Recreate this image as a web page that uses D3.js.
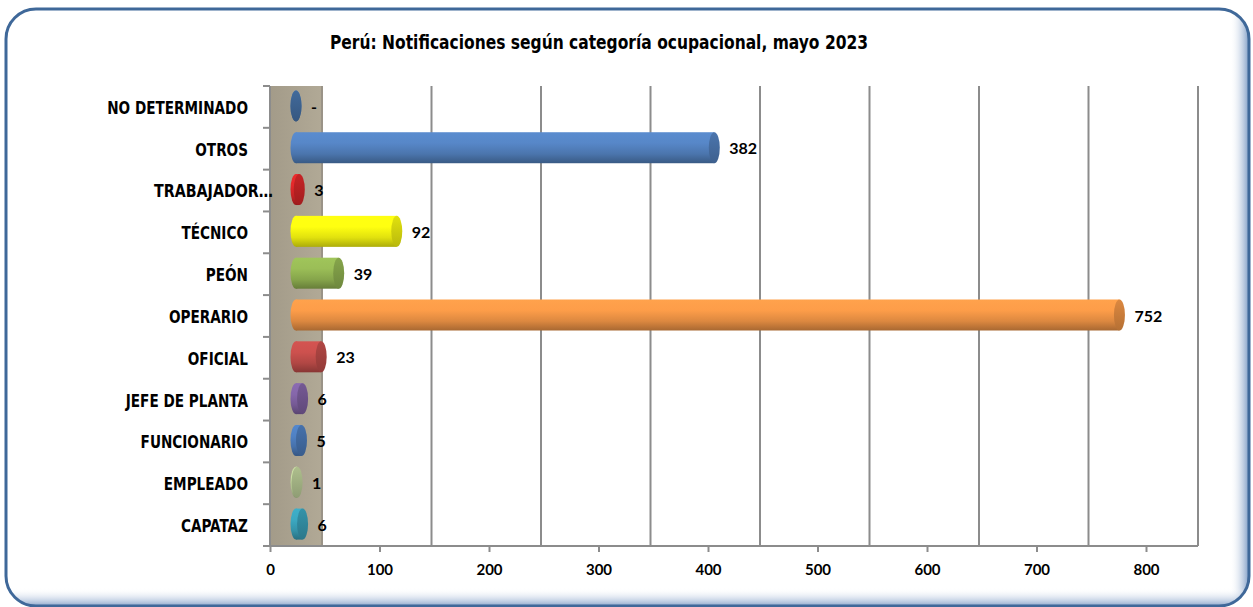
<!DOCTYPE html>
<meta charset="utf-8" />
<style>
  body { margin: 0; background: #fff; }
</style>
<svg width="1253" height="607"></svg>
<script src="https://d3js.org/d3.v7.min.js"></script>
<script>
  // chart data
  var categories = ["NO DETERMINADO", "OTROS", "TRABAJADOR\u2026", "TÉCNICO", "PEÓN", "OPERARIO",
    "OFICIAL", "JEFE DE PLANTA", "FUNCIONARIO", "EMPLEADO", "CAPATAZ"];
  var values = [0, 382, 3, 92, 39, 752, 23, 6, 5, 1, 6];
  var valueLabels = ["-", "382", "3", "92", "39", "752", "23", "6", "5", "1", "6"];
  var xTicks = [0, 100, 200, 300, 400, 500, 600, 700, 800];
  var barColors = ["#4a78b0", "#5585c4", "#e0282a", "#ffff10", "#98bb55", "#f99a48",
    "#c9504d", "#8465a8", "#4f80c2", "#c5d8a0", "#3ba6bf"];
  var title = "Perú: Notificaciones según categoría ocupacional, mayo 2023";

  var svg = d3.select("svg");
  var defs = svg.append("defs");

  var depth = 52;       // 3d side wall width
  var barH = 31;        // cylinder thickness
  var capRx = 5.5;
  var narrow = "'Liberation Sans Narrow', 'Arial Narrow', 'DejaVu Sans Condensed', sans-serif";

  var x = d3.scaleLinear().domain([0, 800]).range([270, 1146]);
  var y = d3.scaleBand().domain(categories).range([86, 546]);

  // frame with inner shadow
  defs.append("clipPath").attr("id", "frameClip")
    .append("rect").attr("x", 6).attr("y", 9).attr("width", 1243).attr("height", 597).attr("rx", 30);

  var gr = defs.append("linearGradient").attr("id", "shR").attr("x1", 0).attr("x2", 1).attr("y1", 0).attr("y2", 0);
  gr.append("stop").attr("offset", "0%").attr("stop-color", "#ffffff").attr("stop-opacity", 0);
  gr.append("stop").attr("offset", "100%").attr("stop-color", "#6f90be");
  var gb = defs.append("linearGradient").attr("id", "shB").attr("x1", 0).attr("x2", 0).attr("y1", 0).attr("y2", 1);
  gb.append("stop").attr("offset", "0%").attr("stop-color", "#ffffff").attr("stop-opacity", 0);
  gb.append("stop").attr("offset", "100%").attr("stop-color", "#7f9cc6");

  var frame = svg.append("g").attr("clip-path", "url(#frameClip)");
  frame.append("rect").attr("x", 0).attr("y", 0).attr("width", 1253).attr("height", 607).attr("fill", "#fff");
  frame.append("rect").attr("x", 1230).attr("y", 0).attr("width", 20).attr("height", 607).attr("fill", "url(#shR)");
  frame.append("rect").attr("x", 0).attr("y", 588).attr("width", 1253).attr("height", 19).attr("fill", "url(#shB)");
  svg.append("rect").attr("x", 6).attr("y", 9).attr("width", 1243).attr("height", 597).attr("rx", 30)
    .attr("fill", "none").attr("stroke", "#3f6899").attr("stroke-width", 3);

  // title
  svg.append("text")
    .attr("x", 599).attr("y", 49)
    .attr("text-anchor", "middle")
    .style("font-family", narrow)
    .style("font-weight", "bold")
    .style("font-size", "19px")
    .attr("textLength", 538).attr("lengthAdjust", "spacingAndGlyphs")
    .text(title);

  // side wall
  var gw = defs.append("linearGradient").attr("id", "wall").attr("x1", 0).attr("x2", 1).attr("y1", 0).attr("y2", 0);
  gw.append("stop").attr("offset", "0%").attr("stop-color", "#a39b89");
  gw.append("stop").attr("offset", "100%").attr("stop-color", "#b1a996");
  svg.append("rect").attr("x", x(0)).attr("y", y.range()[0]).attr("width", depth)
    .attr("height", y.range()[1] - y.range()[0]).attr("fill", "url(#wall)");

  // back wall gridlines
  svg.append("g").selectAll("line").data(xTicks).enter().append("line")
    .attr("x1", d => x(d) + depth).attr("x2", d => x(d) + depth)
    .attr("y1", y.range()[0]).attr("y2", y.range()[1])
    .attr("stroke", d => d === 0 ? "#9a9387" : "#8c8c8c").attr("stroke-width", 2);

  // floor / bottom axis line
  svg.append("line").attr("x1", x(0)).attr("x2", x(800) + depth)
    .attr("y1", y.range()[1]).attr("y2", y.range()[1])
    .attr("stroke", "#8c8c8c").attr("stroke-width", 2);
  svg.append("line").attr("x1", x(0)).attr("x2", x(0))
    .attr("y1", y.range()[0]).attr("y2", y.range()[1])
    .attr("stroke", "#8c8c8c").attr("stroke-width", 2);

  // bottom axis ticks and labels
  var xAxis = svg.append("g").attr("transform", "translate(0," + y.range()[1] + ")")
    .call(d3.axisBottom(x).tickValues(xTicks).tickSize(6).tickPadding(12));
  xAxis.select(".domain").remove();
  xAxis.selectAll(".tick line").attr("stroke", "#8c8c8c").attr("stroke-width", 2);
  xAxis.selectAll(".tick text")
    .style("font-family", "Lato, 'Open Sans', sans-serif")
    .style("font-weight", "bold").style("font-size", "15px").attr("fill", "#000");

  // left ticks at band boundaries
  svg.append("g").selectAll("line").data(d3.range(categories.length + 1)).enter().append("line")
    .attr("x1", x(0) - 7).attr("x2", x(0))
    .attr("y1", d => y.range()[0] + d * y.step()).attr("y2", d => y.range()[0] + d * y.step())
    .attr("stroke", "#8c8c8c").attr("stroke-width", 2);

  // category labels (squeezed to look like a narrow face)
  svg.append("g").selectAll("text").data(categories).enter().append("text")
    .attr("x", (d, i) => i === 2 ? 273 : 248)
    .attr("y", d => y(d) + y.bandwidth() / 2 + 1)
    .attr("dy", "0.35em")
    .attr("text-anchor", "end")
    .style("font-family", narrow)
    .style("font-weight", "bold").style("font-size", "17px")
    .text(d => d)
    .each(function(d, i) {
      var w = this.getComputedTextLength();
      d3.select(this).attr("textLength", w * (i === 2 ? 0.93 : 0.89))
        .attr("lengthAdjust", "spacingAndGlyphs");
    });

  // cylinder gradients
  barColors.forEach(function(c, i) {
    var base = d3.color(c);
    var g = defs.append("linearGradient").attr("id", "body" + i)
      .attr("x1", 0).attr("x2", 0).attr("y1", 0).attr("y2", 1);
    g.append("stop").attr("offset", "0%").attr("stop-color", base.brighter(0.15));
    g.append("stop").attr("offset", "35%").attr("stop-color", base.brighter(0.05));
    g.append("stop").attr("offset", "70%").attr("stop-color", base.darker(0.35));
    g.append("stop").attr("offset", "100%").attr("stop-color", base.darker(1.1));
    var e = defs.append("linearGradient").attr("id", "cap" + i)
      .attr("x1", 0).attr("x2", 0).attr("y1", 0).attr("y2", 1);
    e.append("stop").attr("offset", "0%").attr("stop-color", base.darker(0.35));
    e.append("stop").attr("offset", "100%").attr("stop-color", base.darker(0.9));
  });

  var bars = svg.append("g").selectAll("g").data(categories).enter().append("g")
    .attr("transform", d => "translate(0," + (y(d) + y.bandwidth() / 2 - 1) + ")");

  // left rounded end
  bars.append("ellipse")
    .attr("cx", x(0) + depth / 2).attr("cy", 0)
    .attr("rx", capRx).attr("ry", barH / 2)
    .attr("fill", (d, i) => "url(#body" + i + ")");
  // body
  bars.append("rect")
    .attr("x", x(0) + depth / 2).attr("y", -barH / 2)
    .attr("width", (d, i) => x(values[i]) - x(0)).attr("height", barH)
    .attr("fill", (d, i) => "url(#body" + i + ")");
  // right cap
  bars.append("ellipse")
    .attr("cx", (d, i) => x(values[i]) + depth / 2).attr("cy", 0)
    .attr("rx", capRx).attr("ry", barH / 2)
    .attr("fill", (d, i) => "url(#cap" + i + ")");

  // value labels
  bars.append("text")
    .attr("x", (d, i) => x(values[i]) + depth / 2 + 15)
    .attr("y", 1).attr("dy", "0.35em")
    .style("font-family", "Lato, 'Open Sans', sans-serif")
    .style("font-weight", "bold").style("font-size", "16px")
    .text((d, i) => valueLabels[i]);
</script>
